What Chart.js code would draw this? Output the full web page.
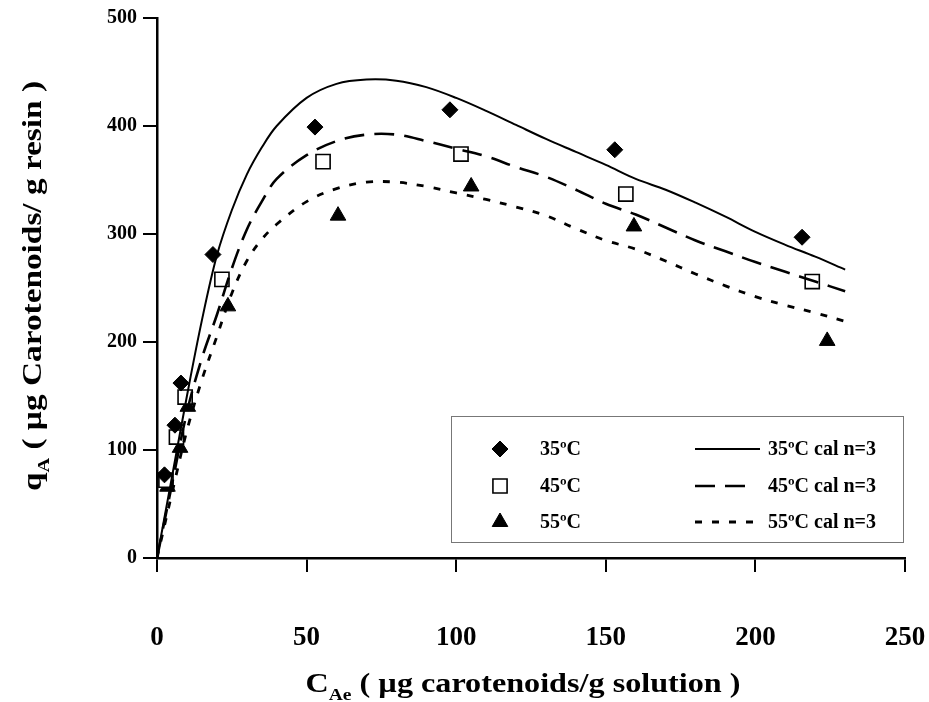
<!DOCTYPE html>
<html>
<head>
<meta charset="utf-8">
<script src="https://cdn.jsdelivr.net/npm/chart.js@4.4.1/dist/chart.umd.min.js"></script>
<style>
  html, body { margin: 0; padding: 0; background: #fff; }
</style>
</head>
<body>
<canvas id="chart" width="929" height="702"></canvas>
<script>
'use strict';

/* ─── data ─── */
var xTicks = [0, 50, 100, 150, 200, 250];
var yTicks = [0, 100, 200, 300, 400, 500];

// measured points
var obs35X = [2.5, 6, 8, 18.7, 52.8, 97.9, 153, 215.6];
var obs35Y = [77, 123, 162, 281, 399, 415, 378, 297];
var obs45X = [3, 6.5, 9.4, 21.7, 55.5, 101.6, 156.7, 219];
var obs45Y = [72, 112, 149, 258, 367, 374, 337, 256];
var obs55X = [3.5, 7.7, 10.3, 23.7, 60.5, 105, 159.4, 224];
var obs55Y = [66, 102, 140, 233, 317, 344, 307, 201];

// calculated curves (n=3)
var calX  = [0, 5, 10, 15, 20, 25, 30, 35, 40, 50, 60, 70, 80, 90, 100, 110, 120, 130, 140, 150, 160, 170, 180, 190, 200, 210, 220, 230];
var cal35 = [0, 75, 150, 220, 280, 322, 355, 380, 400, 426, 439, 443, 442, 436, 426, 414, 401, 388, 376, 364, 351, 341, 329, 316, 302, 290, 279, 267];
var cal45 = [0, 68, 135, 185, 225, 268, 304, 330, 351, 373, 386, 392, 392, 386, 379, 372, 362, 353, 341, 328, 318, 306, 294, 284, 274, 265, 256, 247];
var cal55 = [0, 60, 118, 165, 205, 245, 275, 295, 309, 330, 342, 348, 348, 344, 338, 332, 325, 317, 305, 294, 286, 275, 263, 252, 242, 234, 227, 219];

var FONT = '"Liberation Serif", "Times New Roman", serif';

function toPoints(xs, ys) {
  var pts = [];
  for (var i = 0; i < xs.length; i++) pts.push({ x: xs[i], y: ys[i] });
  return pts;
}

function markerSet(label, xs, ys, style, radius, fill) {
  return {
    label: label,
    data: toPoints(xs, ys),
    showLine: false,
    pointStyle: style,
    pointRadius: radius,
    pointBackgroundColor: fill,
    pointBorderColor: '#000',
    pointBorderWidth: fill === '#fff' ? 1.6 : 1
  };
}

function curveSet(label, ys, dash, width, sample) {
  return {
    label: label,
    data: toPoints(calX, ys),
    showLine: true,
    borderColor: '#000',
    borderWidth: width,
    borderDash: dash,
    tension: 0.35,
    pointRadius: 0,
    fill: false,
    sampleLen: sample
  };
}

var datasets = [
  curveSet('35ºC cal n=3', cal35, [], 2, 65),
  curveSet('45ºC cal n=3', cal45, [20, 10], 2.6, 53),
  curveSet('55ºC cal n=3', cal55, [7, 10], 2.8, 58),
  markerSet('35ºC', obs35X, obs35Y, 'rectRot', 8, '#000'),
  markerSet('45ºC', obs45X, obs45Y, 'rect', 10, '#fff'),
  markerSet('55ºC', obs55X, obs55Y, 'triangle', 9, '#000')
];

/* ─── text with a subscript, stretched to a target width ─── */
function drawParts(ctx, parts, size, target) {
  var total = 0, i;
  for (i = 0; i < parts.length; i++) {
    ctx.font = 'bold ' + (parts[i][1] ? Math.round(size * 0.62) : size) + 'px ' + FONT;
    total += ctx.measureText(parts[i][0]).width;
  }
  ctx.scale(target / total, 1);
  var x = -total / 2;
  for (i = 0; i < parts.length; i++) {
    ctx.font = 'bold ' + (parts[i][1] ? Math.round(size * 0.62) : size) + 'px ' + FONT;
    ctx.fillText(parts[i][0], x, parts[i][1] ? size * 0.28 : 0);
    x += ctx.measureText(parts[i][0]).width;
  }
}

var titlePlugin = {
  id: 'titles',
  afterDraw: function (chart) {
    var ctx = chart.ctx;
    ctx.save();
    ctx.fillStyle = '#000';
    ctx.textBaseline = 'alphabetic';
    ctx.textAlign = 'left';

    ctx.save();
    ctx.translate(523, 692);
    drawParts(ctx, [['C', false], ['Ae', true], [' ( µg carotenoids/g solution )', false]], 28, 435);
    ctx.restore();

    ctx.save();
    ctx.translate(41, 286);
    ctx.rotate(-Math.PI / 2);
    drawParts(ctx, [['q', false], ['A', true], [' ( µg Carotenoids/ g resin )', false]], 28, 410);
    ctx.restore();

    ctx.restore();
  }
};

/* ─── two-column legend box ─── */
var legendPlugin = {
  id: 'boxLegend',
  afterDraw: function (chart) {
    var ctx = chart.ctx;
    var ds = chart.data.datasets;
    var rows = [449, 486, 522];
    ctx.save();
    ctx.fillStyle = '#fff';
    ctx.fillRect(451, 416, 452, 126);
    ctx.strokeStyle = '#777';
    ctx.lineWidth = 1;
    ctx.strokeRect(451.5, 416.5, 452, 126);

    ctx.font = 'bold 20px ' + FONT;
    ctx.textBaseline = 'middle';
    ctx.textAlign = 'left';
    for (var r = 0; r < 3; r++) {
      var m = ds[3 + r], c = ds[r], y = rows[r];
      // marker
      ctx.fillStyle = m.pointBackgroundColor;
      ctx.strokeStyle = '#000';
      ctx.lineWidth = m.pointBorderWidth;
      Chart.helpers.drawPoint(ctx, {
        pointStyle: m.pointStyle, radius: m.pointRadius, rotation: 0, borderWidth: m.pointBorderWidth
      }, 500, y);
      ctx.fillStyle = '#000';
      ctx.fillText(m.label, 540, y + 1);
      // line sample
      ctx.beginPath();
      ctx.setLineDash(c.borderDash);
      ctx.lineWidth = c.borderWidth;
      ctx.moveTo(695, y);
      ctx.lineTo(695 + c.sampleLen, y);
      ctx.stroke();
      ctx.setLineDash([]);
      ctx.fillText(c.label, 768, y + 1);
    }
    ctx.restore();
  }
};

new Chart(document.getElementById('chart'), {
  type: 'scatter',
  data: { datasets: datasets },
  options: {
    responsive: false,
    animation: false,
    layout: { padding: { top: 18, right: 24, left: 0, bottom: 0 } },
    plugins: { legend: { display: false }, tooltip: { enabled: false } },
    scales: {
      x: {
        type: 'linear', min: 0, max: 250,
        afterBuildTicks: function (s) { s.ticks = xTicks.map(function (v) { return { value: v }; }); },
        afterFit: function (s) { s.height = 144; s.paddingLeft = 0; s.paddingRight = 20; },
        grid: { drawOnChartArea: false, color: '#000', lineWidth: 2, tickLength: 14 },
        border: { color: '#000', width: 2.5 },
        ticks: { color: '#000', padding: 50, maxRotation: 0, font: { family: FONT, size: 27, weight: 'bold' } }
      },
      y: {
        type: 'linear', min: 0, max: 500,
        afterBuildTicks: function (s) { s.ticks = yTicks.map(function (v) { return { value: v }; }); },
        afterFit: function (s) { s.width = 157; },
        grid: { drawOnChartArea: false, color: '#000', lineWidth: 2, tickLength: 14 },
        border: { color: '#000', width: 2.5 },
        ticks: { color: '#000', padding: 6, font: { family: FONT, size: 20, weight: 'bold' } }
      }
    }
  },
  plugins: [titlePlugin, legendPlugin]
});
</script>
</body>
</html>
